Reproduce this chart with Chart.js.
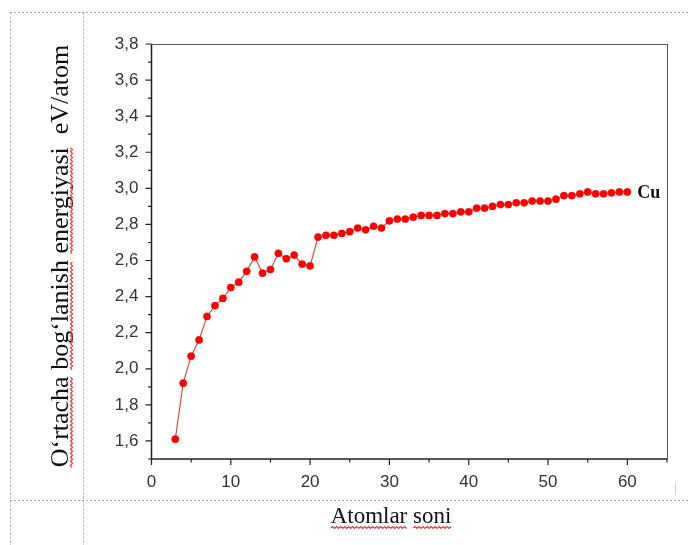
<!DOCTYPE html>
<html>
<head>
<meta charset="utf-8">
<title>O‘rtacha bog‘lanish energiyasi — Cu</title>
<script src="https://cdn.jsdelivr.net/npm/chart.js@4.4.1/dist/chart.umd.min.js"></script>
<style>
  html, body { margin: 0; padding: 0; background: #fff; }
  canvas { display: block; }
</style>
</head>
<body>
<canvas id="energyChart" width="689" height="545"></canvas>
<script>
// Atom count (x) and average binding energy per atom, eV (y)
const ATOM_COUNTS = [
  3, 4, 5, 6, 7, 8, 9, 10, 11, 12, 13, 14, 15, 16, 17, 18, 19, 20,
  21, 22, 23, 24, 25, 26, 27, 28, 29, 30, 31, 32, 33, 34, 35, 36, 37, 38, 39, 40,
  41, 42, 43, 44, 45, 46, 47, 48, 49, 50, 51, 52, 53, 54, 55, 56, 57, 58, 59, 60
];
const ENERGY_CU = [
  1.61, 1.92, 2.07, 2.16, 2.29, 2.35, 2.39, 2.45, 2.48, 2.54, 2.62, 2.53, 2.55, 2.64, 2.61, 2.63, 2.58, 2.57,
  2.73, 2.74, 2.74, 2.75, 2.76, 2.78, 2.77, 2.79, 2.78, 2.82, 2.83, 2.83, 2.84, 2.85, 2.85, 2.85, 2.86, 2.86, 2.87, 2.87,
  2.89, 2.89, 2.90, 2.91, 2.91, 2.92, 2.92, 2.93, 2.93, 2.93, 2.94, 2.96, 2.96, 2.97, 2.98, 2.97, 2.97, 2.975, 2.98, 2.98
];
const X_TICKS = [0, 10, 20, 30, 40, 50, 60];
const Y_TICKS = [1.6, 1.8, 2.0, 2.2, 2.4, 2.6, 2.8, 3.0, 3.2, 3.4, 3.6, 3.8];
const SERIES_LABEL = 'Cu';
const X_TITLE = 'Atomlar soni';
const Y_TITLE_WORDS = ['O‘rtacha', 'bog‘lanish', 'energiyasi', ' eV/atom'];

const TICK_FONT = { family: '"Liberation Sans", Arial, sans-serif', size: 17 };
const SERIF = '"Liberation Serif", "Times New Roman", serif';

// wavy red "spell-check" underline, drawn along +x in the current transform
function wavy(ctx, x0, x1, y) {
  ctx.save();
  ctx.strokeStyle = '#e8343a';
  ctx.lineWidth = 1.2;
  ctx.beginPath();
  let up = true;
  ctx.moveTo(x0, y);
  for (let x = x0 + 2; x <= x1; x += 2) {
    ctx.lineTo(x, up ? y - 1.5 : y + 0.5);
    up = !up;
  }
  ctx.stroke();
  ctx.restore();
}

// page frame: white background and the dashed document table lines
const pageFrame = {
  id: 'pageFrame',
  beforeDraw(chart) {
    const ctx = chart.ctx;
    ctx.save();
    ctx.fillStyle = '#fff';
    ctx.fillRect(0, 0, chart.width, chart.height);
    ctx.strokeStyle = '#a8a8a8';
    ctx.lineWidth = 1;
    ctx.setLineDash([2, 2]);
    ctx.beginPath();
    ctx.moveTo(10, 12.5); ctx.lineTo(chart.width, 12.5);
    ctx.moveTo(10, 500.5); ctx.lineTo(chart.width, 500.5);
    ctx.moveTo(10.5, 12.5); ctx.lineTo(10.5, chart.height);
    ctx.moveTo(83.5, 12.5); ctx.lineTo(83.5, chart.height);
    ctx.stroke();
    ctx.setLineDash([]);
    ctx.strokeStyle = '#c8c8c8';
    ctx.beginPath();
    ctx.moveTo(675.5, 484); ctx.lineTo(675.5, 495);
    ctx.stroke();
    ctx.restore();
  }
};

// axis box, major/minor ticks and the titles
const axisBox = {
  id: 'axisBox',
  afterDraw(chart) {
    const ctx = chart.ctx;
    const { left, right, top, bottom } = chart.chartArea;
    const xs = chart.scales.x, ys = chart.scales.y;
    ctx.save();

    // top + right frame
    ctx.strokeStyle = '#555';
    ctx.lineWidth = 1;
    ctx.beginPath();
    ctx.moveTo(left, top + 0.5); ctx.lineTo(right, top + 0.5);
    ctx.moveTo(right + 0.5, top); ctx.lineTo(right + 0.5, bottom);
    ctx.stroke();

    // left + bottom axes
    ctx.strokeStyle = '#222';
    ctx.lineWidth = 1.5;
    ctx.beginPath();
    ctx.moveTo(left, top); ctx.lineTo(left, bottom);
    ctx.lineTo(right, bottom);
    ctx.stroke();

    // ticks
    ctx.lineWidth = 1.2;
    ctx.beginPath();
    Y_TICKS.forEach(v => {
      const y = ys.getPixelForValue(v);
      ctx.moveTo(left, y); ctx.lineTo(left - 6, y);
      const ym = ys.getPixelForValue(v - 0.1);
      ctx.moveTo(left, ym); ctx.lineTo(left - 3.5, ym);
    });
    X_TICKS.forEach(v => {
      const x = xs.getPixelForValue(v);
      ctx.moveTo(x, bottom); ctx.lineTo(x, bottom + 6);
      const xm = xs.getPixelForValue(v + 5);
      ctx.moveTo(xm, bottom); ctx.lineTo(xm, bottom + 3.5);
    });
    ctx.stroke();

    // series label next to the last point
    const lastX = xs.getPixelForValue(ATOM_COUNTS[ATOM_COUNTS.length - 1]);
    const lastY = ys.getPixelForValue(ENERGY_CU[ENERGY_CU.length - 1]);
    ctx.fillStyle = '#111';
    ctx.font = 'bold 18px ' + SERIF;
    ctx.textBaseline = 'middle';
    ctx.textAlign = 'left';
    ctx.fillText(SERIES_LABEL, lastX + 10, lastY + 1);

    // x title
    ctx.font = '23px ' + SERIF;
    ctx.textBaseline = 'alphabetic';
    ctx.textAlign = 'left';
    const xw = ctx.measureText(X_TITLE).width;
    const xStart = 391 - xw / 2;
    ctx.fillText(X_TITLE, xStart, 523);
    const w1 = ctx.measureText('Atomlar').width;
    const w2 = ctx.measureText('Atomlar ').width;
    wavy(ctx, xStart, xStart + w1, 528);
    wavy(ctx, xStart + w2, xStart + xw, 528);

    // y title, rotated
    ctx.translate(68, 256);
    ctx.rotate(-Math.PI / 2);
    ctx.font = '26px ' + SERIF;
    const full = Y_TITLE_WORDS.join(' ');
    const yw = ctx.measureText(full).width;
    let cx = -yw / 2;
    ctx.fillText(full, cx, 0);
    Y_TITLE_WORDS.slice(0, 3).forEach(word => {
      const ww = ctx.measureText(word).width;
      wavy(ctx, cx, cx + ww, 4);
      cx += ctx.measureText(word + ' ').width;
    });

    ctx.restore();
  }
};

const ctx = document.getElementById('energyChart');
new Chart(ctx, {
  type: 'line',
  data: {
    datasets: [{
      label: SERIES_LABEL,
      data: ATOM_COUNTS.map((n, i) => ({ x: n, y: ENERGY_CU[i] })),
      borderColor: 'rgba(225, 40, 40, 0.85)',
      borderWidth: 1.2,
      pointRadius: 3.6,
      pointBackgroundColor: '#ff0000',
      pointBorderColor: '#ee0000',
      pointBorderWidth: 0.5,
      tension: 0
    }]
  },
  options: {
    responsive: false,
    animation: false,
    layout: { padding: { left: 0, top: 44, right: 22, bottom: 0 } },
    plugins: {
      legend: { display: false },
      tooltip: { enabled: false }
    },
    scales: {
      x: {
        type: 'linear',
        min: 0,
        max: 65,
        afterBuildTicks: s => { s.ticks = X_TICKS.map(v => ({ value: v })); },
        afterFit: s => { s.height = 86; },
        grid: { display: false },
        border: { display: false },
        ticks: { font: TICK_FONT, color: '#333', padding: 5, maxRotation: 0 }
      },
      y: {
        min: 1.5,
        max: 3.8,
        afterBuildTicks: s => { s.ticks = Y_TICKS.map(v => ({ value: v })); },
        afterFit: s => { s.width = 151.5; },
        grid: { display: false },
        border: { display: false },
        ticks: {
          font: TICK_FONT,
          color: '#333',
          padding: 5,
          callback: v => v.toFixed(1).replace('.', ',')
        }
      }
    }
  },
  plugins: [pageFrame, axisBox]
});
</script>
</body>
</html>
